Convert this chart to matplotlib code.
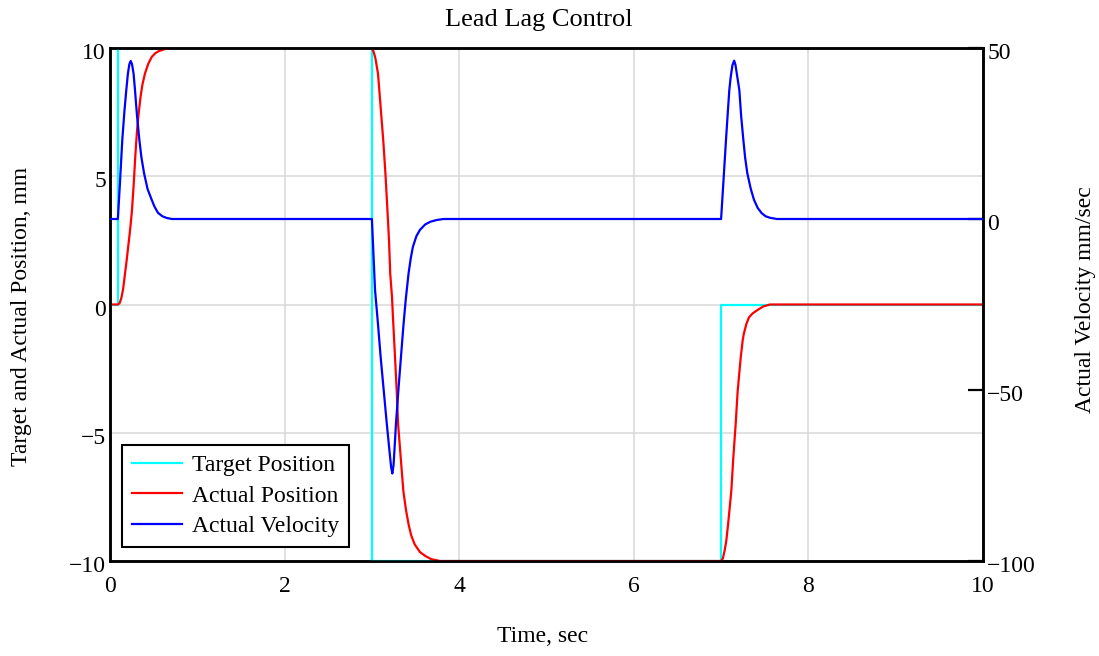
import matplotlib
matplotlib.use("Agg")
import matplotlib.pyplot as plt
from matplotlib.transforms import ScaledTranslation

plt.rcParams['font.family'] = ['Liberation Serif', 'DejaVu Serif']
plt.rcParams['axes.unicode_minus'] = True

# ---- data ----
target_t = [0, 0.09, 0.09, 3.0, 3.0, 7.0, 7.0, 10]
target_pos = [0, 0, 10, 10, -10, -10, 0, 0]

pos_t = [0, 0.09, 0.11, 0.13, 0.15, 0.17, 0.19, 0.21, 0.23, 0.25, 0.27, 0.29,
         0.31, 0.33, 0.35, 0.37, 0.40, 0.44, 0.48, 0.52, 0.56, 0.62, 0.70,
         3.0, 3.02, 3.04, 3.055, 3.07, 3.10, 3.13, 3.155, 3.176, 3.196, 3.21,
         3.23, 3.245, 3.265, 3.284, 3.30, 3.33, 3.36, 3.39, 3.42, 3.45, 3.49,
         3.55, 3.61, 3.68, 3.78,
         7.0, 7.02, 7.04, 7.06, 7.08, 7.117, 7.14, 7.167, 7.19, 7.225, 7.247,
         7.26, 7.29, 7.32, 7.36, 7.41, 7.48, 7.56, 10]
pos = [0, 0, 0.05, 0.25, 0.6, 1.15, 1.7, 2.3, 2.9, 3.6, 4.6, 5.8,
       6.8, 7.5, 8.1, 8.55, 9.0, 9.4, 9.66, 9.8, 9.88, 9.95, 10,
       10, 9.85, 9.6, 9.3, 9.0, 7.7, 6.4, 5.1, 3.8, 2.5, 1.2,
       0.3, -0.75, -2.06, -3.36, -4.66, -5.96, -7.27, -8.0, -8.57, -9.0, -9.35,
       -9.65, -9.8, -9.93, -10,
       -10, -9.9, -9.6, -9.2, -8.57, -7.27, -5.96, -4.66, -3.36, -2.06, -1.4,
       -1.15, -0.75, -0.5, -0.35, -0.23, -0.08, 0, 0]

vel_t = [0, 0.09, 0.115, 0.141, 0.165, 0.187, 0.205, 0.222, 0.237, 0.252, 0.27,
         0.286, 0.31, 0.336, 0.36, 0.39, 0.43, 0.478, 0.51, 0.55, 0.60, 0.65, 0.71,
         3.0, 3.036, 3.07, 3.10, 3.135, 3.17, 3.20, 3.22, 3.234, 3.248, 3.262,
         3.276, 3.305, 3.333, 3.36, 3.387, 3.42, 3.445, 3.47, 3.51, 3.55, 3.61,
         3.67, 3.74, 3.82,
         7.0, 7.028, 7.056, 7.075, 7.094, 7.11, 7.13, 7.15, 7.165, 7.18, 7.209,
         7.23, 7.255, 7.275, 7.30, 7.34, 7.377, 7.42, 7.465, 7.51, 7.56, 7.64, 10]
vel = [0, 0, 11.0, 23.2, 31.5, 37.8, 42.5, 45.3, 46.2, 45.3, 42.5,
       37.8, 30.0, 23.2, 18.0, 13.4, 8.8, 5.6, 3.6, 1.8, 0.8, 0.3, 0,
       0, -20.8, -30.8, -40.3, -50.0, -59.7, -67.5, -72.5, -74.4, -72.0, -66.0,
       -59.7, -49.5, -40.3, -31.5, -23.7, -15.9, -11.5, -8.1, -5.0, -3.2, -1.6,
       -0.8, -0.3, 0,
       0, 11.5, 23.1, 30.5, 37.7, 41.5, 45.0, 46.3, 45.0, 42.5, 37.7,
       30.0, 23.1, 18.0, 13.4, 8.8, 5.6, 3.2, 1.7, 0.8, 0.35, 0, 0]

x_ticks = [0, 2, 4, 6, 8, 10]
left_ticks = [-10, -5, 0, 5, 10]
right_ticks = [-100, -50, 0, 50]

# ---- figure ----
W, H = 1099, 656
fig = plt.figure(figsize=(W / 100, H / 100), dpi=100)
L, R, T, B = 110, 983, 48, 561
ax = fig.add_axes([L / W, 1 - B / H, (R - L) / W, (B - T) / H])
ax2 = ax.twinx()

FS = 17
grid_c = '#d9d9d9'

l1, = ax.plot(target_t, target_pos, color='#00ffff', lw=1.6, label='Target Position', zorder=3)
l2, = ax.plot(pos_t, pos, color='#ff0000', lw=1.6, label='Actual Position', zorder=4)
l3, = ax2.plot(vel_t, vel, color='#0000ff', lw=1.6, label='Actual Velocity', zorder=3)

ax.set_xlim(0, 10)
ax.set_ylim(-10, 10)
ax2.set_ylim(-100, 50)
ax.set_xticks(x_ticks)
ax.set_yticks(left_ticks)
ax2.set_yticks(right_ticks)

ax.grid(True, color=grid_c, lw=1.1)
ax.set_axisbelow(True)
ax.tick_params(axis='x', length=0, pad=11, labelsize=FS)
ax.tick_params(axis='y', length=0, pad=3, labelsize=FS)
ax2.tick_params(axis='y', direction='in', length=11, width=1.6, pad=3, labelsize=FS)

shift = ScaledTranslation(0, -3 / 100, fig.dpi_scale_trans)
for lab in ax.get_yticklabels() + ax2.get_yticklabels():
    lab.set_transform(lab.get_transform() + shift)

for a in (ax, ax2):
    for s in a.spines.values():
        s.set_linewidth(1.8)
        s.set_color('black')

leg = ax2.legend(handles=[l1, l2, l3], loc='lower left',
                 bbox_to_anchor=(12 / (R - L), 14 / (B - T)), borderaxespad=0,
                 fontsize=FS, fancybox=False, framealpha=1, edgecolor='black',
                 handlelength=2.1, handletextpad=0.45, labelspacing=0.38,
                 borderpad=0.42)
leg.get_frame().set_linewidth(1.5)

fig.text(539 / W, 1 - 20 / H, 'Lead Lag Control', ha='center', va='center', fontsize=19)
fig.text(542.5 / W, 1 - 637 / H, 'Time, sec', ha='center', va='center', fontsize=FS)
fig.text(22 / W, 1 - 316 / H, 'Target and Actual Position, mm', ha='center', va='center',
         rotation=90, fontsize=FS)
fig.text(1085 / W, 1 - 300 / H, 'Actual Velocity mm/sec', ha='center', va='center',
         rotation=90, fontsize=FS)

fig.savefig('out.png', dpi=100)
